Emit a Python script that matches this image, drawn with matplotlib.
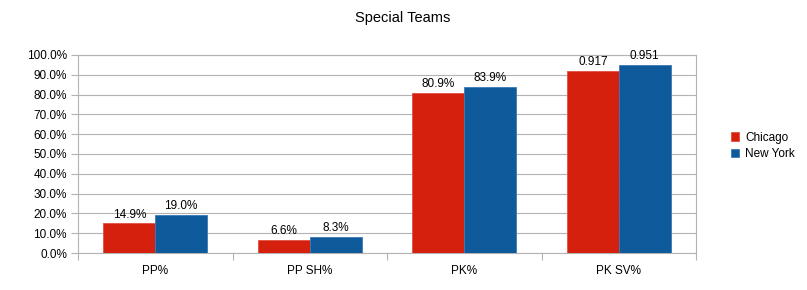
import matplotlib
matplotlib.use("Agg")
import matplotlib.pyplot as plt
import numpy as np
from matplotlib.ticker import FixedLocator, NullFormatter, FixedFormatter

plt.rcParams['font.family'] = ['Liberation Sans', 'DejaVu Sans']

categories = ["PP%", "PP SH%", "PK%", "PK SV%"]
chicago = [14.9, 6.6, 80.9, 91.7]
new_york = [19.0, 8.3, 83.9, 95.1]
chicago_labels = ["14.9%", "6.6%", "80.9%", "0.917"]
new_york_labels = ["19.0%", "8.3%", "83.9%", "0.951"]
series_names = ["Chicago", "New York"]
colors = ["#d4200c", "#0e5a9a"]

fig = plt.figure(figsize=(8.07, 2.90), dpi=100)
ax = fig.add_axes([78/807, 37/290, (696-78)/807, (253-55)/290])

x = np.arange(len(categories))
w = 0.335
b1 = ax.bar(x - w/2, chicago, w, color=colors[0], edgecolor="#e05040", linewidth=0.6, label=series_names[0], zorder=3)
b2 = ax.bar(x + w/2, new_york, w, color=colors[1], edgecolor="#3a7ab5", linewidth=0.6, label=series_names[1], zorder=3)

for bars, labs in ((b1, chicago_labels), (b2, new_york_labels)):
    for r, lab in zip(bars, labs):
        ax.text(r.get_x() + r.get_width()/2, r.get_height() + 1.5, lab,
                ha="center", va="bottom", fontsize=8.5, color="#000000")

ax.set_xlim(-0.5, len(categories) - 0.5)
ax.set_ylim(0, 100)
yt = np.arange(0, 101, 10)
ax.set_yticks(yt)
ax.set_yticklabels([f"{v:.1f}%" for v in yt], fontsize=8.5)
ax.yaxis.grid(True, color="#b3b3b3", linewidth=0.8, zorder=0)

ax.xaxis.set_major_locator(FixedLocator(np.arange(-0.5, len(categories), 1.0)))
ax.xaxis.set_major_formatter(NullFormatter())
ax.xaxis.set_minor_locator(FixedLocator(x))
ax.xaxis.set_minor_formatter(FixedFormatter(categories))
ax.tick_params(axis="x", which="major", length=5, color="#b3b3b3", direction="out")
ax.tick_params(axis="x", which="minor", length=0, labelsize=8.5, pad=9)
ax.tick_params(axis="y", length=5, color="#b3b3b3", direction="out", pad=3)

for s in ax.spines.values():
    s.set_color("#b3b3b3")
    s.set_linewidth(0.8)

fig.text(403/807, 1 - 18/290, "Special Teams", ha="center", va="center", fontsize=10.5)

ax.legend(loc="center left", bbox_to_anchor=(726/807, 144/290), bbox_transform=fig.transFigure,
          frameon=False, fontsize=8.5, handlelength=0.7, handleheight=0.7, handletextpad=0.5,
          labelspacing=0.4, borderaxespad=0)

fig.savefig("out.png", dpi=100)
